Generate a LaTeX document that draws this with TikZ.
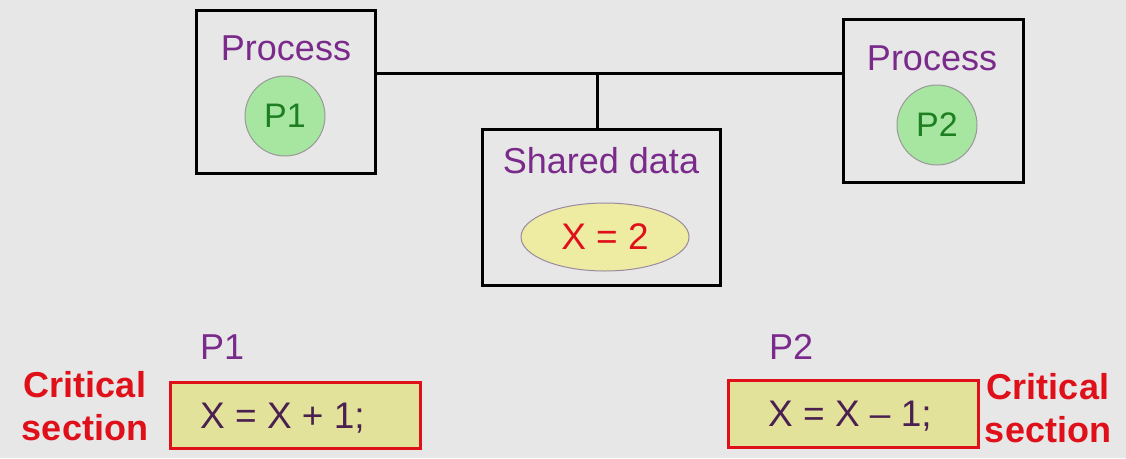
\documentclass[tikz,border=0pt]{standalone}
\usepackage{fontspec}
\setmainfont{Liberation Sans}
\usetikzlibrary{shapes.geometric}
\definecolor{bg}{HTML}{E7E7E7}
\definecolor{purp}{HTML}{7A2A8A}
\definecolor{dgreen}{HTML}{1E7E22}
\definecolor{lgreen}{HTML}{A6E6A0}
\definecolor{yell}{HTML}{EEEBA2}
\definecolor{ellb}{HTML}{9A8A9E}
\definecolor{codef}{HTML}{E2E29A}
\definecolor{redc}{HTML}{E0101A}
\definecolor{codet}{HTML}{4A2050}
\tikzset{
  bigbox/.style={draw=black, line width=3pt, fill=bg, inner sep=0pt},
  ptitle/.style={text=purp, anchor=base, inner sep=0pt, font=\fontsize{36}{42}\selectfont},
  pcircle/.style={circle, draw=gray!80, line width=1pt, fill=lgreen, minimum size=80pt, inner sep=0pt, text=dgreen, font=\fontsize{34}{40}\selectfont},
  codebox/.style={draw=redc, line width=3pt, fill=codef, inner sep=0pt},
  codetext/.style={text=codet, anchor=base west, inner sep=0pt, font=\fontsize{37}{42}\selectfont},
  crit/.style={text=redc, inner sep=0pt, font=\fontsize{36}{43}\selectfont\bfseries},
  conn/.style={line width=3pt, draw=black}
}
\begin{document}
\begin{tikzpicture}[x=1pt,y=-1pt]
\useasboundingbox[fill=bg] (0,0) rectangle (1126,458);
% boxes
\node[bigbox, minimum width=179pt, minimum height=163pt] (lbox) at (285.5,91.5) {};
\node[bigbox, minimum width=180pt, minimum height=163pt] (rbox) at (933,100.5) {};
\node[bigbox, minimum width=238pt, minimum height=156pt] (sbox) at (601,207) {};
% connectors
\coordinate (junc) at (597,73);
\draw[conn] (lbox.east |- junc) -- (rbox.west |- junc);
\draw[conn] (junc) -- (junc |- sbox.north);
% titles
\node[ptitle] (lt) at (286,60) {Process};
\node[ptitle] (rt) at (932,70) {Process};
\node[ptitle] (st) at (601,173) {Shared data};
% circles
\node[pcircle] (c1) at (285,116) {P1};
\node[pcircle] (c2) at (937,125) {P2};
% ellipse
\node[ellipse, draw=ellb, line width=1pt, fill=yell, minimum width=168pt, minimum height=68pt, inner sep=0pt, text=redc, font=\fontsize{37}{42}\selectfont] (x2) at (605,237) {X = 2};
% bottom labels
\node[ptitle, anchor=base west] (p1l) at (200,359) {P1};
\node[ptitle, anchor=base west] (p2l) at (769,359) {P2};
% code boxes
\node[codebox, minimum width=250pt, minimum height=66pt] (cb1) at (295,415) {};
\node[codebox, minimum width=250pt, minimum height=67pt] (cb2) at (853,413.5) {};
\node[codetext] (ct1) at (200,428) {X = X + 1;};
\node[codetext] (ct2) at (768,426) {X = X – 1;};
% critical section labels
\node[crit, align=center, anchor=base] (cr1) at (85,440) {Critical\\section};
\node[crit, align=center, anchor=base] (cr2) at (1048,442) {Critical\\section};
\end{tikzpicture}
\end{document}
